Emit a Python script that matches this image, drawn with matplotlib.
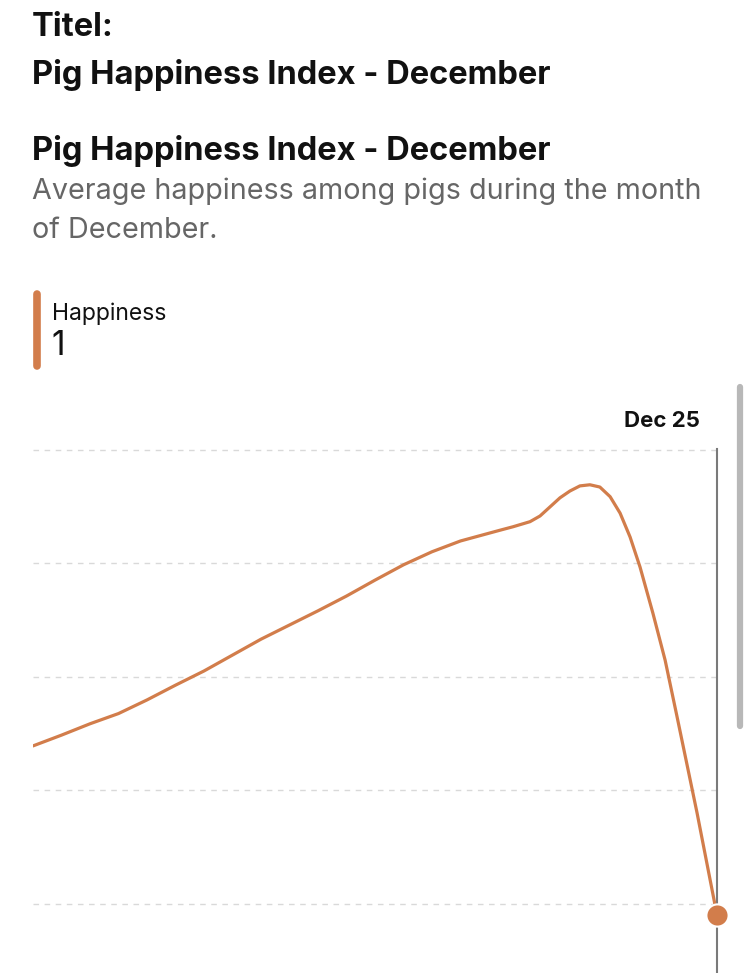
import matplotlib
matplotlib.use('Agg')
import matplotlib.pyplot as plt
from matplotlib.lines import Line2D

# data (day of December, happiness)
days = [1, 2, 3, 4, 5, 6, 7, 8, 9, 10, 11, 12, 13, 14, 15, 16,
        17.39, 17.84, 18.44, 18.79, 19.14, 19.49, 19.84, 20.19, 20.54,
        20.89, 21.25, 21.6, 21.95, 22.3, 22.75, 23.18, 23.6, 24.3, 25]
happiness = [3.98, 4.17, 4.37, 4.55, 4.79, 5.05, 5.30, 5.58, 5.86, 6.11,
             6.36, 6.62, 6.90, 7.17, 7.40, 7.59,
             7.78, 7.84, 7.93, 8.03, 8.19, 8.35, 8.47, 8.56, 8.58,
             8.54, 8.37, 8.08, 7.66, 7.13, 6.32, 5.49, 4.49, 2.80, 1.00]
grid_values = [1.2, 3.2, 5.2, 7.2, 9.2]
selected_label = 'Dec 25'
selected_value = '1'
series_name = 'Happiness'

title = 'Pig Happiness Index - December'
subtitle_lines = ['Average happiness among pigs during the month', 'of December.']

ORANGE = '#D27D4B'
W, H = 750, 973


def fx(px):
    return px / W


def fy(py):
    return 1 - py / H


def main():
    plt.rcParams['font.family'] = ['Inter', 'Roboto', 'DejaVu Sans']

    fig = plt.figure(figsize=(W / 100, H / 100), dpi=100)
    fig.patch.set_facecolor('white')

    # header texts
    fig.text(fx(32), fy(27), 'Titel:', fontsize=23.5, fontweight='bold',
             color='#111111', va='center')
    fig.text(fx(32), fy(75), title, fontsize=23.5, fontweight='bold',
             color='#111111', va='center')
    fig.text(fx(32), fy(151), title, fontsize=23.5, fontweight='bold',
             color='#111111', va='center')
    fig.text(fx(32), fy(191), subtitle_lines[0], fontsize=20.7,
             color='#666666', va='center')
    fig.text(fx(32), fy(230), subtitle_lines[1], fontsize=20.7,
             color='#666666', va='center')

    # legend block
    fig.add_artist(Line2D([fx(36.5), fx(36.5)], [fy(294), fy(366)], lw=5.5,
                          color=ORANGE, solid_capstyle='round'))
    fig.text(fx(52), fy(314), series_name, fontsize=16.5, color='#111111', va='center')
    fig.text(fx(51), fy(346), selected_value, fontsize=24, color='#111111', va='center')

    # chart
    ax = fig.add_axes([fx(33), 0, fx(717) - fx(33), (H - 449) / H])
    ax.set_xlim(days[0], days[-1])
    ax.set_ylim(-0.02, 9.21)
    for v in grid_values:
        ax.axhline(v, color='#d9d9d9', lw=1.0, dashes=(4, 4), zorder=1, clip_on=False)
    ax.axvline(days[-1], color='#7a7a7a', lw=1.5, zorder=2, clip_on=False)
    ax.plot(days, happiness, color=ORANGE, lw=2.3, solid_joinstyle='round',
            solid_capstyle='round', zorder=3)
    ax.plot(days[-1], happiness[-1], 'o', ms=16, color=ORANGE, mec='white',
            mew=1.5, zorder=4, clip_on=False)
    ax.axis('off')

    fig.text(fx(700), fy(421), selected_label, fontsize=16, fontweight='bold',
             color='#111111', va='center', ha='right')

    # scroll indicator
    fig.add_artist(Line2D([fx(740), fx(740)], [fy(387), fy(726)], lw=4.5,
                          color='#b8b8b8', solid_capstyle='round'))

    fig.savefig('out.png', dpi=100)


if __name__ == '__main__':
    main()
